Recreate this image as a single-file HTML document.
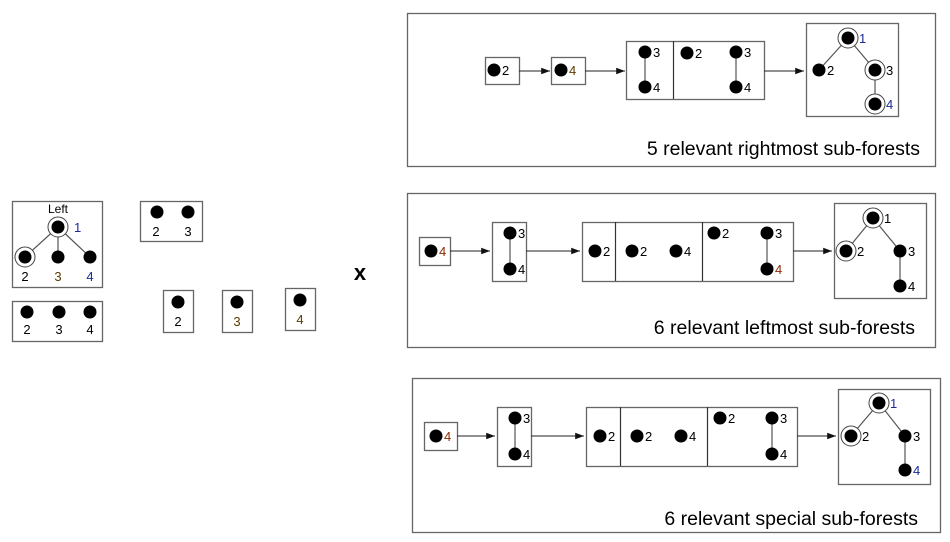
<!DOCTYPE html>
<html><head><meta charset="utf-8"><style>
html,body{margin:0;padding:0;background:#fff;}
svg{display:block;font-family:"Liberation Sans",sans-serif;}
</style></head><body>
<svg id="d" width="950" height="542" viewBox="0 0 950 542" xmlns="http://www.w3.org/2000/svg">
<defs><marker id="ah" markerWidth="8" markerHeight="6" refX="8" refY="3" orient="auto"><path d="M0,0 L8,3 L0,6 Z" fill="#111"/></marker></defs>
<g id="root" stroke="#777" fill="none"></g>
</svg>
<script>
const svg=document.getElementById('root');
const NS='http://www.w3.org/2000/svg';
function mk(tag,a,name){const e=document.createElementNS(NS,tag);for(const k in a)e.setAttribute(k,a[k]);


svg.appendChild(e);return e;}
function box(x1,y1,x2,y2,n){mk('rect',{x:x1+.5,y:y1+.5,width:x2-x1,height:y2-y1,stroke:'#666','stroke-width':1.3,fill:'none'},n||'forest-box');}
function vline(x,y1,y2){mk('line',{x1:x+.5,y1:y1,x2:x+.5,y2:y2,stroke:'#333','stroke-width':1.2},'box-divider');}
function edge(x1,y1,x2,y2){mk('line',{x1,y1,x2,y2,stroke:'#555','stroke-width':1.2},'tree-edge');}
function dot(x,y,ring){if(ring)mk('circle',{cx:x,cy:y,r:10,stroke:'#444','stroke-width':1,fill:'#fff'},'node-ring');mk('circle',{cx:x,cy:y,r:6.5,fill:'#000',stroke:'none'},'node');}
function lab(x,y,t,c,sz,anchor,w){const e=mk('text',{x,y,fill:c||'#000',stroke:'none','font-size':sz||13,'text-anchor':anchor||'start','font-weight':w||'normal'},'node-label');e.textContent=t;return e;}
function arrow(x1,x2,y){mk('line',{x1,y1:y,x2,y2:y,stroke:'#222','stroke-width':1.1,'marker-end':'url(#ah)'},'arrow');}
function nl(x,y,t,ring,c){dot(x,y,ring);lab(x+(ring?11:8),y+5,t,c);}

// Left side
box(12,201,102,287,'left-tree-box');
lab(58,213,'Left','#000',12,'middle');
edge(58,227,25,257);edge(58,227,58,257);edge(58,227,90,257);
dot(58,227,true);dot(25,257,true);dot(58,257);dot(90,257);
lab(74,232,'1','#1a2a9a');
lab(25,281,'2','#000',13,'middle');lab(58,281,'3','#5a3a00',13,'middle');lab(90,281,'4','#1a2a9a',13,'middle');
box(12,301,102,341,'left-forest-box');
[[27,'2'],[59,'3'],[90,'4']].forEach(p=>{dot(p[0],312);lab(p[0],334,p[1],'#000',13,'middle');});
box(140,201,202,241,'pair-box');
dot(157,212);dot(188,212);lab(156,236,'2','#000',13,'middle');lab(188,236,'3','#000',13,'middle');
box(163,290,193,332,'single-box-2');dot(178,302);lab(178,326,'2','#000',13,'middle');
box(222,290,252,332,'single-box-3');dot(237,302);lab(237,326,'3','#5a3a00',13,'middle');
box(285,288,315,330,'single-box-4');dot(300,300);lab(300,324,'4','#5a3a00',13,'middle');
lab(360,280,'x','#000',22,'middle','bold');

// Panel 1
box(407,13,935,166,'rightmost-panel');
box(485,57,519,84);nl(494,70,'2');
arrow(519,550,71);
box(551,57,585,84);nl(561,70,'4',false,'#5a3a00');
arrow(585,625,71);
box(626,41,764,99);vline(673,41,99);
edge(645,52,645,87);nl(645,52,'3');nl(645,87,'4');
nl(687,53,'2');
edge(736,52,736,87);nl(736,52,'3');nl(736,87,'4');
arrow(764,804,71);
box(806,23,898,116,'result-tree-box');
edge(848,38,819,70);edge(848,38,875,70);edge(875,70,875,104);
nl(848,38,'1',true,'#1a2a9a');nl(819,70,'2');nl(875,70,'3',true);nl(875,104,'4',true,'#1a2a9a');
lab(920,155,'5 relevant rightmost sub-forests','#000',19.5,'end');

// Panel 2
box(407,193,935,347,'leftmost-panel');
box(419,237,450,265);nl(431,251,'4',false,'#8a2a00');
arrow(450,490,251);
box(492,222,526,281);edge(510,233,510,269);nl(510,233,'3');nl(510,269,'4');
arrow(526,580,251);
box(582,222,793,281);vline(615,222,281);vline(702,222,281);
nl(595,251,'2');nl(632,251,'2');nl(676,251,'4');nl(714,233,'2');
edge(767,233,767,269);nl(767,233,'3');nl(767,269,'4',false,'#8a2a00');
arrow(793,832,251);
box(834,203,926,298,'result-tree-box');
edge(873,218,846,251);edge(873,218,900,251);edge(900,251,900,286);
nl(873,218,'1',true);nl(846,251,'2',true);nl(900,251,'3');nl(900,286,'4');
lab(915,334,'6 relevant leftmost sub-forests','#000',19.5,'end');

// Panel 3
box(412,378,940,532,'special-panel');
box(424,422,457,450);nl(436,436,'4',false,'#8a2a00');
arrow(457,495,436);
box(497,407,531,466);edge(515,418,515,454);nl(515,418,'3');nl(515,454,'4');
arrow(531,584,436);
box(586,407,797,466);vline(620,407,466);vline(707,407,466);
nl(600,436,'2');nl(637,436,'2');nl(681,436,'4');nl(720,418,'2');
edge(772,418,772,454);nl(772,418,'3');nl(772,454,'4');
arrow(797,836,436);
box(838,389,930,484,'result-tree-box');
edge(879,403,851,436);edge(879,403,905,436);edge(905,436,905,470);
nl(879,403,'1',true,'#1a2a9a');nl(851,436,'2',true);nl(905,436,'3');nl(905,470,'4',false,'#1a2a9a');
lab(918,525,'6 relevant special sub-forests','#000',19.5,'end');
</script>
</body></html>
